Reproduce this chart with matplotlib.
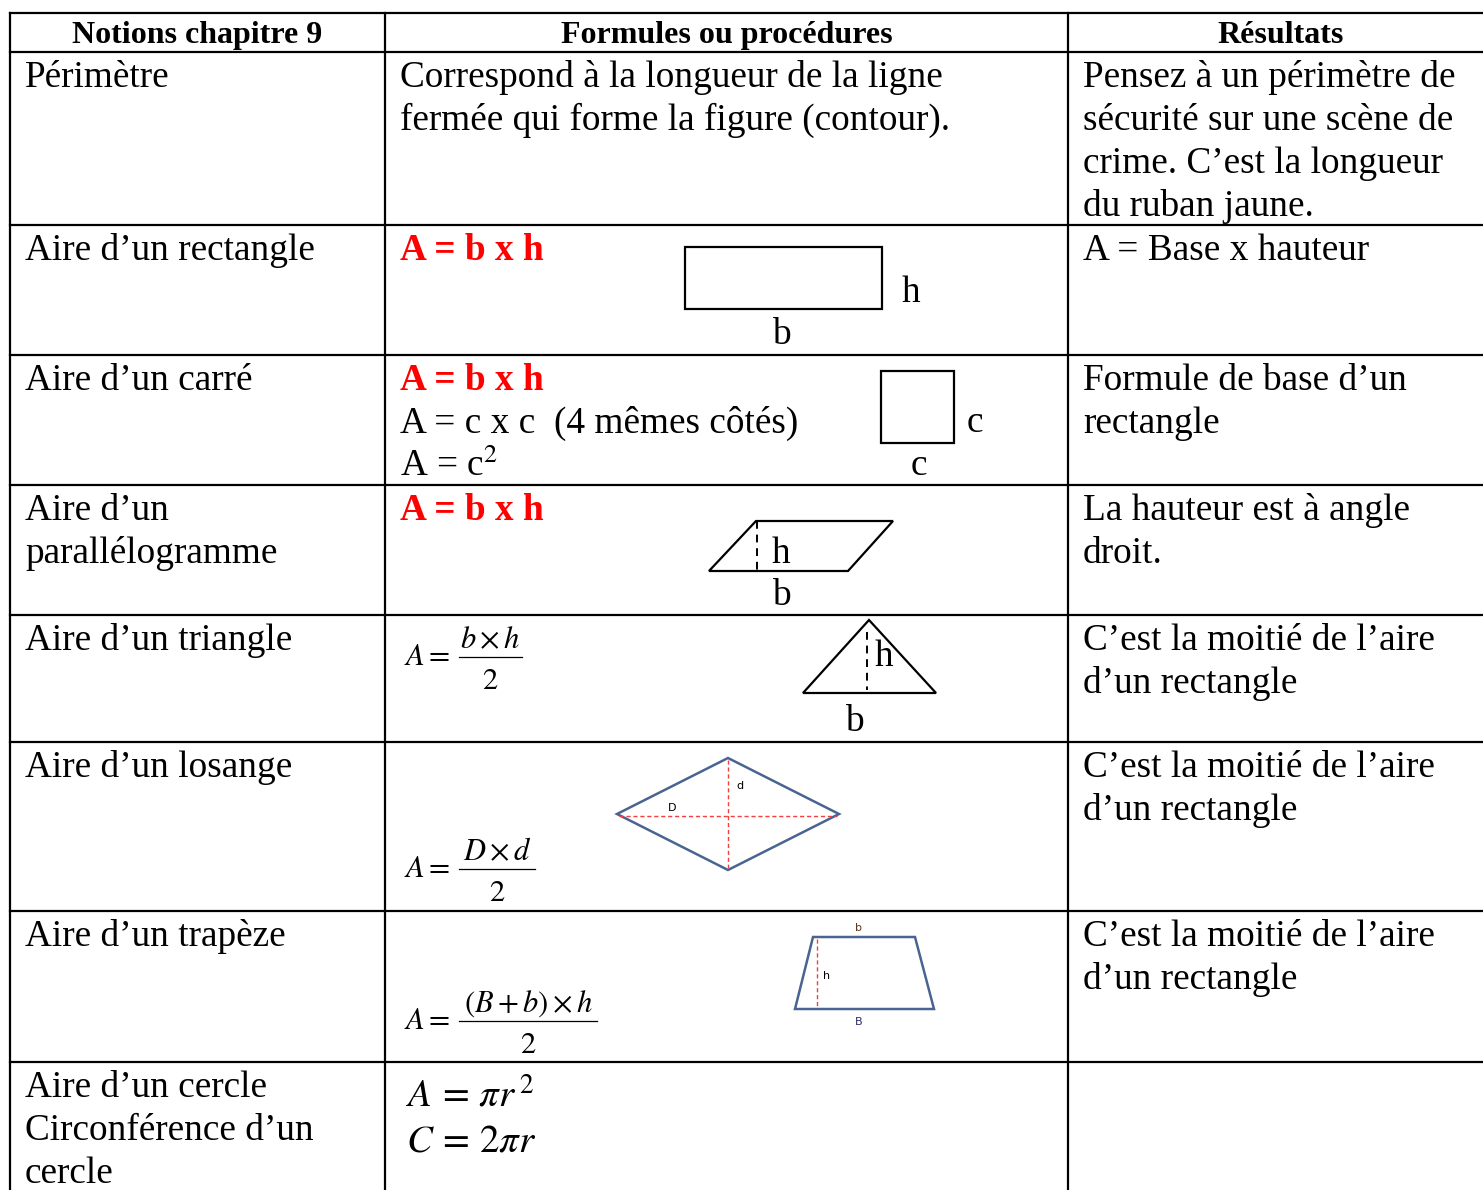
import matplotlib.pyplot as plt
from matplotlib.patches import Polygon

plt.rcParams['font.family'] = ['Liberation Serif', 'DejaVu Serif']
plt.rcParams['mathtext.fontset'] = 'stix'

# Data
headers = ['Notions chapitre 9', 'Formules ou procédures', 'Résultats']
notions = [
    ['Périmètre'],
    ['Aire d’un rectangle'],
    ['Aire d’un carré'],
    ['Aire d’un', 'parallélogramme'],
    ['Aire d’un triangle'],
    ['Aire d’un losange'],
    ['Aire d’un trapèze'],
    ['Aire d’un cercle', 'Circonférence d’un', 'cercle'],
]
resultats = [
    ['Pensez à un périmètre de', 'sécurité sur une scène de', 'crime. C’est la longueur', 'du ruban jaune.'],
    ['A = Base x hauteur'],
    ['Formule de base d’un', 'rectangle'],
    ['La hauteur est à angle', 'droit.'],
    ['C’est la moitié de l’aire', 'd’un rectangle'],
    ['C’est la moitié de l’aire', 'd’un rectangle'],
    ['C’est la moitié de l’aire', 'd’un rectangle'],
    [],
]
perimetre_txt = ['Correspond à la longueur de la ligne', 'fermée qui forme la figure (contour).']
red_formula = 'A = b x h'
carre_lines = ['A = c x c  (4 mêmes côtés)', 'A = c$^{2}$']
# fractions: numerator, denominator
frac_num = [r'$b\times h$', r'$D\times d$', r'$(B+b)\times h$']
frac_den = ['$2$', '$2$', '$2$']

# table grid (pixels); the last column runs past the right edge
col_x = [10, 385, 1068, 1493]
row_y = [13, 52, 225, 355, 485, 615, 742, 911, 1062, 1190]

# figure shapes (pixels)
rect = [(685, 247), (882, 247), (882, 309), (685, 309)]
square = [(881, 371), (954, 371), (954, 443), (881, 443)]
parallelo = [(709, 571), (756, 521), (893, 521), (848, 571)]
triangle = [(803, 693), (869, 620), (936, 693)]
losange = [(617, 814), (728, 758), (839, 814), (728, 870)]
trapeze = [(813, 937), (915, 937), (934, 1009), (795, 1009)]

fs = 26.8
fig = plt.figure(figsize=(14.83, 11.90), dpi=100)
ax = fig.add_axes([0, 0, 1, 1])
ax.set_xlim(0, 1483)
ax.set_ylim(1190, 0)
ax.axis('off')

# grid lines
for y in row_y[:-1]:
    ax.plot([col_x[0], col_x[-1]], [y, y], color='black', lw=1.6, clip_on=False)
for x in col_x[:-1]:
    ax.plot([x, x], [row_y[0], row_y[-1]], color='black', lw=1.6)

# headers
for i, h in enumerate(headers):
    ax.text((col_x[i] + col_x[i + 1]) / 2, 43, h, fontsize=23, fontweight='bold',
            ha='center', va='baseline')

def lines(x, top, txts, **kw):
    for j, t in enumerate(txts):
        ax.text(x, top + 35 + j * 43, t, fontsize=kw.get('size', fs), ha='left', va='baseline',
                color=kw.get('color', 'black'), fontweight=kw.get('weight', 'normal'))

for i in range(len(notions)):
    lines(25, row_y[i + 1], notions[i])
    lines(1083, row_y[i + 1], resultats[i])

# middle column
lines(400, row_y[1], perimetre_txt)
for r in (2, 3, 4):
    lines(400, row_y[r], [red_formula], color='red', weight='bold')
for j, t in enumerate(carre_lines):
    ax.text(400, row_y[3] + 78 + j * 43, t, fontsize=fs, ha='left', va='baseline')

def shape(pts, closed=True, color='black', lw=1.6):
    ax.add_patch(Polygon(pts, closed=closed, fill=False, edgecolor=color, lw=lw))

shape(rect)
ax.text(911, 302, 'h', fontsize=fs, ha='center', va='baseline')
ax.text(782, 344, 'b', fontsize=fs, ha='center', va='baseline')

shape(square)
ax.text(975, 432, 'c', fontsize=fs, ha='center', va='baseline')
ax.text(919, 475, 'c', fontsize=fs, ha='center', va='baseline')

shape(parallelo)
ax.plot([757, 757], [521, 571], color='black', lw=1.4, ls=(0, (4, 3)))
ax.text(781, 563, 'h', fontsize=fs, ha='center', va='baseline')
ax.text(782, 605, 'b', fontsize=fs, ha='center', va='baseline')

shape(triangle)
ax.plot([867, 867], [632, 690], color='black', lw=1.4, ls=(0, (4, 3)))
ax.text(884, 666, 'h', fontsize=fs, ha='center', va='baseline')
ax.text(855, 731, 'b', fontsize=fs, ha='center', va='baseline')

blue = '#4a6491'
shape(losange, color=blue, lw=1.8)
ax.plot([619, 837], [816, 816], color='#f04040', lw=1.0, ls=(0, (3, 2)))
ax.plot([728, 728], [760, 868], color='#f04040', lw=1.0, ls=(0, (3, 2)))
ax.text(672, 808, 'D', fontsize=8, family='DejaVu Sans', ha='center', va='center')
ax.text(740, 786, 'd', fontsize=8, family='DejaVu Sans', ha='center', va='center')

shape(trapeze, color=blue, lw=1.8)
ax.plot([817, 817], [939, 1007], color='#f04040', lw=1.0, ls=(0, (3, 2)))
ax.text(858, 928, 'b', fontsize=8, family='DejaVu Sans', ha='center', va='center', color='#5a3a1a')
ax.text(827, 976, 'h', fontsize=8, family='DejaVu Sans', ha='center', va='center')
ax.text(859, 1022, 'B', fontsize=8, family='DejaVu Sans', ha='center', va='center', color='#2a2a70')

# fractions built by hand: bar y, bar x-range
frac_bar_y = [657, 869, 1021]
frac_bar_x = [(459, 522), (459, 535), (459, 597)]
ffs = 22
for k in range(3):
    yb = frac_bar_y[k]
    x0, x1 = frac_bar_x[k]
    xc = (x0 + x1) / 2
    ax.text(404, yb + 8, r'$A=$', fontsize=ffs, ha='left', va='baseline')
    ax.plot([x0, x1], [yb, yb], color='black', lw=0.9)
    ax.text(xc, yb - 9, frac_num[k], fontsize=ffs, ha='center', va='baseline')
    ax.text(xc, yb + 32, frac_den[k], fontsize=ffs, ha='center', va='baseline')

# circle
ax.text(406, 1106, r'$A\,=\,\pi r^{\,2}$', fontsize=28, ha='left', va='baseline')
ax.text(406, 1152, r'$C\,=\,2\pi r$', fontsize=28, ha='left', va='baseline')

fig.savefig('out.png', dpi=100)
